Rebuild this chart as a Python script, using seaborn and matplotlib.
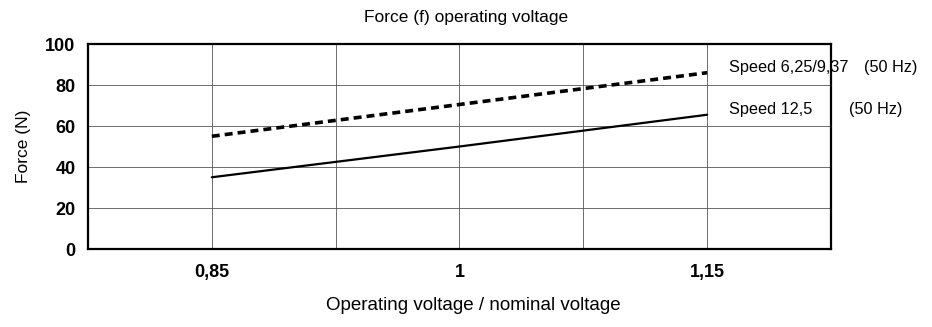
import numpy as np
import pandas as pd
import matplotlib
matplotlib.use("Agg")
import matplotlib.pyplot as plt
import seaborn as sns
from matplotlib.ticker import FixedLocator, NullFormatter

# data
voltage_ratio = [0.85, 1.0, 1.15]
force_speed_6 = [55, 70.5, 86]     # Speed 6,25/9,37 (dotted)
force_speed_12 = [35, 50, 65.5]    # Speed 12,5 (solid)
x_tick_labels = ["0,85", "1", "1,15"]

df = pd.DataFrame({
    "ratio": voltage_ratio * 2,
    "force": force_speed_6 + force_speed_12,
    "series": ["6"] * 3 + ["12"] * 3,
})

sns.set_style("white", {"text.color": "black", "axes.labelcolor": "black",
                        "xtick.color": "black", "ytick.color": "black"})
plt.rcParams["font.family"] = ["Liberation Sans", "DejaVu Sans"]

fig = plt.figure(figsize=(9.32, 3.27), dpi=100)
ax = fig.add_axes([0.0944, 0.2385, 0.7972, 0.6269])

sns.lineplot(ax=ax, data=df[df.series == "6"], x="ratio", y="force",
             color="black", linewidth=2.6, linestyle=(0, (2.2, 1.4)))
sns.lineplot(ax=ax, data=df[df.series == "12"], x="ratio", y="force",
             color="black", linewidth=1.6)

ax.set_xlim(0.775, 1.225)
ax.set_ylim(0, 100)
ax.xaxis.set_major_locator(FixedLocator(voltage_ratio))
ax.set_xticklabels(x_tick_labels, fontweight="bold", fontsize=13)
ax.xaxis.set_minor_locator(FixedLocator([0.925, 1.075]))
ax.xaxis.set_minor_formatter(NullFormatter())
ax.set_yticks([0, 20, 40, 60, 80, 100])
ax.set_yticklabels(["0", "20", "40", "60", "80", "100"], fontweight="bold", fontsize=13)

ax.grid(True, which="both", color="#555555", linewidth=0.6)
ax.tick_params(axis="x", which="both", length=6, width=0.6, color="#555555",
               labelcolor="black", pad=5)
ax.tick_params(axis="y", which="both", length=6, width=0.6, color="#555555",
               labelcolor="black", pad=3)
for s in ax.spines.values():
    s.set_color("black")
    s.set_linewidth(1.6)

ax.set_xlabel("Operating voltage / nominal voltage", fontsize=13.5, color="black")
ax.xaxis.set_label_coords(0.518, -0.235)
ax.set_ylabel("Force (N)", fontsize=12.5, labelpad=10, color="black")
ax.set_title("Force (f) operating voltage", fontsize=12.5, x=0.509, pad=16, color="black")

# series labels to the right of the line ends
ax.text(1.163, 88.5, "Speed 6,25/9,37", fontsize=11.7, va="center", clip_on=False)
ax.text(1.245, 88.5, "(50 Hz)", fontsize=11.7, va="center", clip_on=False)
ax.text(1.163, 68, "Speed 12,5", fontsize=11.7, va="center", clip_on=False)
ax.text(1.236, 68, "(50 Hz)", fontsize=11.7, va="center", clip_on=False)

fig.savefig("out.png", dpi=100)
